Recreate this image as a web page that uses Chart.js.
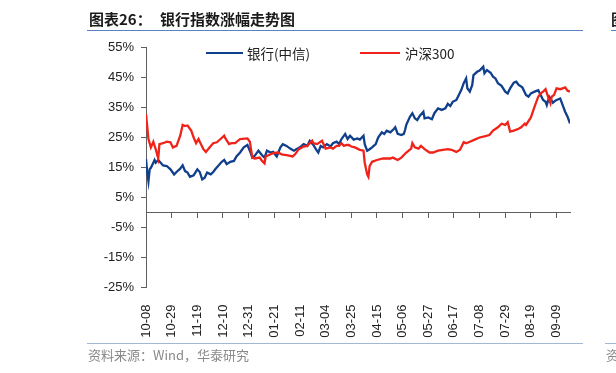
<!DOCTYPE html>
<html>
<head>
<meta charset="utf-8">
<script src="https://cdn.jsdelivr.net/npm/chart.js@4.4.0/dist/chart.umd.min.js"></script>
<style>
  body { margin:0; background:#fff; width:616px; height:373px; overflow:hidden; position:relative; font-family:"Noto Sans CJK SC", sans-serif; }
  #chartBox { position:absolute; left:0; top:0; }
  .txt { position:absolute; white-space:nowrap; }
  .bar { position:absolute; }
</style>
</head>
<body>
<canvas id="chartBox" width="616" height="373"></canvas>

<div class="txt" style="left:89px;top:8px;font-size:15px;font-weight:bold;color:#1a1a1a;">图表26：</div>
<div class="txt" style="left:160px;top:8px;font-size:15px;font-weight:bold;color:#1a1a1a;">银行指数涨幅走势图</div>
<div class="bar" style="left:87px;top:30px;width:496px;height:1px;background:#5b82c0;"></div>
<div class="txt" style="left:611px;top:8px;font-size:15px;font-weight:bold;color:#1a1a1a;">图</div>
<div class="bar" style="left:611px;top:30px;width:5px;height:1px;background:#5b82c0;"></div>

<div class="bar" style="left:206px;top:52px;width:37px;height:2px;background:#103f8c;"></div>
<div class="txt" style="left:247px;top:44px;font-size:13.5px;line-height:18px;color:#222;">银行(中信)</div>
<div class="bar" style="left:360px;top:52px;width:40px;height:2px;background:#f0231a;"></div>
<div class="txt" style="left:405px;top:44px;font-size:13.5px;line-height:18px;color:#222;">沪深300</div>

<div class="bar" style="left:87px;top:343px;width:496px;height:1px;background:#a3b7d6;"></div>
<div class="txt" style="left:88px;top:346px;font-size:13px;line-height:18px;color:#8a8a8a;">资料来源：Wind，华泰研究</div>
<div class="bar" style="left:605px;top:343px;width:11px;height:1px;background:#a3b7d6;"></div>
<div class="txt" style="left:606px;top:346px;font-size:13px;line-height:18px;color:#8a8a8a;">资</div>

<script>
// x = days after 10-08, labels every 3 weeks
let tickDays = [0,21,42,63,84,105,126,147,168,189,210,231,252,273,294,315,336];
let tickLabels = ['10-08','10-29','11-19','12-10','12-31','01-21','02-11','03-04','03-25','04-15','05-06','05-27','06-17','07-08','07-29','08-19','09-09'];
let yTicks = [-25,-15,-5,5,15,25,35,45,55];

// 银行(中信)
let bankDays = [0,1,2,3,4,6,7,8,10,12,14,17,20,23,25,28,30,32,34,36,39,42,44,46,48,50,53,55,57,59,
  62,64,66,69,72,74,77,80,83,85,87,89,92,95,97,99,102,104,107,110,112,115,118,121,123,126,129,132,134,137,
  139,141,143,145,148,151,153,156,158,160,163,165,167,170,173,175,178,179,181,183,185,188,190,193,195,197,200,203,204,206,
  209,211,212,213,216,218,220,222,224,227,228,231,234,236,239,242,245,247,249,251,254,256,258,260,262,263,265,267,268,271,
  273,276,277,279,282,284,286,288,291,294,296,298,301,303,305,308,311,313,315,318,321,323,325,327,328,330,333,335,336,339,
  341,343,345,347];
let bankVals = [17.8,13.3,10.4,14.4,14.9,16.6,17.5,16.6,17.5,16.6,15.7,15.5,14.4,12.7,13.5,14.6,15.7,13.8,13.3,11.9,12.4,14.4,13.5,11.0,11.6,13.3,12.7,13.5,14.6,15.5,
  16.9,17.5,16.1,16.9,17.2,18.7,20.0,21.7,22.5,20.6,18.3,18.9,20.6,19.1,18.3,20.6,20.0,20.2,18.7,21.7,22.8,22.2,21.3,20.6,21.1,21.7,22.8,22.2,23.9,22.5,
  21.1,20.0,22.2,21.7,22.8,22.0,23.1,23.6,22.8,24.5,26.2,24.5,25.6,24.3,24.7,24.3,25.6,22.8,20.6,21.1,21.7,22.8,25.0,26.7,26.2,27.3,26.7,27.9,28.4,26.2,
  25.8,26.2,27.5,29.2,31.9,33.1,31.4,30.8,32.2,33.6,31.4,31.7,31.1,33.1,34.7,34.2,34.7,36.2,35.5,36.9,37.5,39.2,40.8,43.1,44.7,41.4,40.3,42.5,45.8,46.9,
  47.3,48.6,46.4,47.5,46.6,45.3,44.7,43.1,42.2,40.3,39.7,41.4,43.3,43.6,42.5,41.7,39.2,38.6,39.7,40.3,40.8,39.2,37.5,36.9,35.8,38.6,36.6,37.3,37.5,38.0,
  35.8,33.6,31.9,29.7];

// 沪深300
let hsDays = [0,2,4,6,8,10,11,14,17,20,22,25,28,30,32,34,37,39,41,43,44,47,49,53,55,58,61,64,65,68,
  70,73,77,83,85,87,89,93,95,97,98,102,104,108,111,115,120,122,125,129,132,136,137,140,144,147,151,153,156,158,
  160,162,164,166,168,171,175,178,179,181,182,183,185,189,194,200,202,206,209,213,217,218,220,223,225,228,232,235,239,243,
  247,250,254,257,260,262,265,269,273,277,281,284,288,291,294,296,298,301,305,307,310,311,315,318,321,323,325,327,329,331,
  332,334,336,339,341,343,345,347];
let hsVals = [32.8,24.5,21.7,23.6,21.0,18.0,22.8,23.1,23.6,23.4,21.7,22.2,25.6,29.2,28.8,29.0,27.3,25.0,23.1,24.5,23.6,21.1,20.2,22.2,23.1,23.4,24.5,25.6,24.7,22.8,
  23.1,23.1,24.5,24.7,23.6,18.3,18.0,18.3,17.2,16.4,18.7,19.4,19.8,20.0,19.4,19.1,18.7,19.4,21.1,22.0,22.2,23.9,23.1,22.8,23.9,21.3,21.7,21.3,22.2,22.2,
  23.1,22.2,22.5,22.5,22.0,21.7,20.9,20.6,16.6,12.7,11.9,15.5,16.9,17.5,18.0,18.0,18.3,17.5,18.3,20.0,21.3,23.1,21.7,21.3,22.2,21.1,20.0,20.0,20.6,20.9,
  21.1,20.9,20.2,20.9,23.4,23.1,23.6,24.3,25.0,25.4,25.8,27.3,28.4,29.6,29.2,30.1,27.0,27.3,27.9,28.4,29.6,29.2,31.7,35.3,38.6,39.7,40.3,41.1,38.6,36.4,
  38.6,39.2,41.4,41.1,41.4,41.7,40.6,40.3];

function makePoints(days, vals)
{
    let pts = [];
    for (let i = 0; i < days.length; i++) {
        pts.push({ x: days[i], y: vals[i] });
    }
    return pts;
}

function setDayTicks(scale)
{
    scale.ticks = tickDays.map(function(d){ return { value: d }; });
}

let axisColor = '#5f5f5f';
let tickFont = { family: 'Liberation Sans', size: 13 };

let ctx = document.getElementById('chartBox');
new Chart(ctx, {
    type: 'line',
    data: {
        datasets: [
            {
                label: '银行(中信)',
                data: makePoints(bankDays, bankVals),
                borderColor: '#103f8c',
                borderWidth: 2.3,
                pointRadius: 0,
                tension: 0,
                order: 1
            },
            {
                label: '沪深300',
                data: makePoints(hsDays, hsVals),
                borderColor: '#f0231a',
                borderWidth: 2.3,
                pointRadius: 0,
                tension: 0,
                order: 0
            }
        ]
    },
    options: {
        responsive: false,
        animation: false,
        devicePixelRatio: 1,
        layout: { padding: { top: 47.5, right: 46, bottom: 35.5, left: 0 } },
        plugins: { legend: { display: false }, tooltip: { enabled: false } },
        scales: {
            x: {
                type: 'linear',
                position: { y: 0 },
                min: 0,
                max: 347,
                afterBuildTicks: setDayTicks,
                ticks: { display: false, autoSkip: false },
                grid: { drawOnChartArea: false, drawTicks: true, tickLength: 5, color: axisColor },
                border: { display: true, color: axisColor, width: 1 }
            },
            x2: {
                type: 'linear',
                axis: 'x',
                position: 'bottom',
                display: true,
                min: 0,
                max: 347,
                afterBuildTicks: setDayTicks,
                afterFit: function(scale){ scale.height = 50; },
                ticks: {
                    autoSkip: false,
                    minRotation: 90,
                    maxRotation: 90,
                    padding: 9,
                    color: '#222',
                    font: tickFont,
                    callback: function(value, index){ return tickLabels[index]; }
                },
                grid: { display: false },
                border: { display: false }
            },
            y: {
                min: -25,
                max: 55,
                afterBuildTicks: function(scale){ scale.ticks = yTicks.map(function(v){ return { value: v }; }); },
                afterFit: function(scale){ scale.width = 146; },
                ticks: {
                    padding: 7,
                    color: '#222',
                    font: tickFont,
                    callback: function(value){ return value + '%'; }
                },
                grid: { drawOnChartArea: false, drawTicks: true, tickLength: 5, color: axisColor },
                border: { display: true, color: axisColor, width: 1 }
            }
        }
    }
});
</script>
</body>
</html>
